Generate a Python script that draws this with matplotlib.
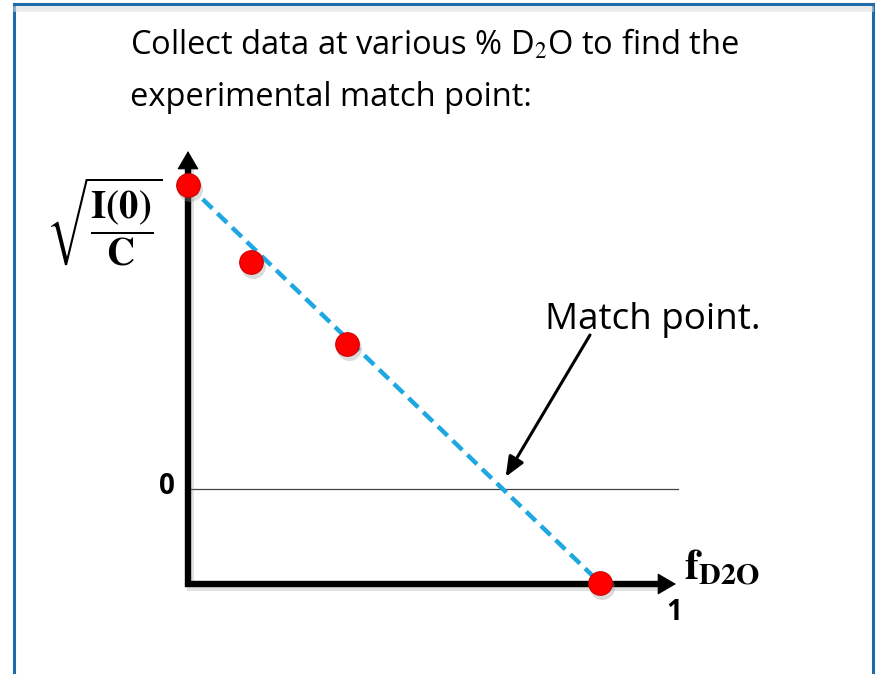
import matplotlib.pyplot as plt
from matplotlib.lines import Line2D

plt.rcParams['mathtext.fontset'] = 'stix'

# measured sqrt(I(0)/C) values at several D2O fractions
f_d2o = [0.0, 0.153, 0.386, 1.0]
sqrt_i0 = [1.0, 0.747, 0.477, -0.309]

# straight-line fit through the end points, crossing zero at the match point
fit_x = [f_d2o[0], f_d2o[-1]]
fit_y = [sqrt_i0[0], sqrt_i0[-1]]
slope = (fit_y[1] - fit_y[0]) / (fit_x[1] - fit_x[0])
match_x = fit_x[0] - fit_y[0] / slope

W, H = 877, 674
X0, SX = 188, 412   # pixel column of f = 0, pixels per unit f
Y0, SY = 489, 304   # pixel row of y = 0, pixels per unit y


def px(x, y):
    return (x - X0) / SX, (Y0 - y) / SY


fig = plt.figure(figsize=(W / 100, H / 100), dpi=100)
ax = fig.add_axes([0, 0, 1, 1])
ax.set_xlim(-X0 / SX, (W - X0) / SX)
ax.set_ylim(-(H - Y0) / SY, Y0 / SY)
ax.axis('off')

# frame around the slide panel
blue = '#1f6aa8'
for xs, ys in [([14 / W, 14 / W], [0, 1 - 4 / H]),
               ([14 / W, 873 / W], [1 - 4 / H, 1 - 4 / H]),
               ([873 / W, 873 / W], [1 - 4 / H, 0])]:
    fig.add_artist(Line2D(xs, ys, color=blue, lw=2.2))
fig.add_artist(Line2D([16 / W, 871 / W], [1 - 9 / H, 1 - 9 / H],
                      color='#dddddd', lw=4, alpha=0.6))

x_min = 0.0
y_min = px(0, 584)[1]
x_tip = px(676, 0)[0]
y_tip = px(0, 151)[1]
head_x = 16 / SX
head_y = 16 / SY

# zero line
ax.plot([x_min, px(678, 0)[0]], [0, 0], color='#444444', lw=0.9, zorder=1)

# axes: thick bodies with a faint shadow, then the arrow heads
sh = (2.5 / SX, -2.5 / SY)
ax.plot([x_min + sh[0], x_min + sh[0], x_tip - head_x + sh[0]],
        [y_tip - head_y + sh[1], y_min + sh[1], y_min + sh[1]],
        color='#888888', alpha=0.25, lw=5, solid_joinstyle='miter', zorder=1)
ax.plot([x_min, x_min, x_tip - head_x],
        [y_tip - head_y, y_min, y_min],
        color='black', lw=4.6, solid_joinstyle='miter', zorder=2)
head_kw = dict(arrowstyle='-|>,head_length=12,head_width=7', color='black',
               lw=0.8, shrinkA=0, shrinkB=0, mutation_scale=1)
ax.annotate('', xy=(x_min, y_tip), xytext=(x_min, y_tip - 2 * head_y),
            arrowprops=head_kw, zorder=2)
ax.annotate('', xy=(x_tip, y_min), xytext=(x_tip - 2 * head_x, y_min),
            arrowprops=head_kw, zorder=2)

# dashed fit line
ax.plot(fit_x, fit_y, color='#1ea7e0', lw=3.2, ls=(0, (3, 1.6)), zorder=3)

# data points with a soft shadow
ax.plot([v + 0.004 for v in f_d2o], [v - 0.012 for v in sqrt_i0], 'o',
        ms=18, color='#999999', alpha=0.35, mec='none', zorder=3)
ax.plot(f_d2o, sqrt_i0, 'o', ms=17, color='#ff0000', mec='#d00000', mew=0.8,
        zorder=4)

# match point arrow
ax.annotate('', xy=(match_x + 0.007, 0.04), xytext=px(590, 335),
            arrowprops=dict(arrowstyle='-|>,head_length=12,head_width=5',
                            color='black', lw=2.2, shrinkA=0, shrinkB=0,
                            mutation_scale=1))
ax.text(*px(545, 320), 'Match point.', fontsize=26.5,
        family='Open Sans', ha='left', va='center')

# axis labels
ax.text(*px(167, 487), '0', fontsize=20, fontweight='bold', family='Open Sans',
        ha='center', va='center')
ax.text(*px(674, 613), '1', fontsize=20, fontweight='bold',
        family='Open Sans', ha='center', va='center')
ax.text(*px(684, 568), r'$\mathbf{f_{D2O}}$', fontsize=31,
        ha='left', va='center')
ax.text(*px(104, 222),
        r'$\sqrt{\dfrac{\mathbf{I(0)}}{\mathbf{C}}}$', fontsize=28,
        ha='center', va='center')

# heading
ax.text(*px(130, 45),
        'Collect data at various % D$_2$O to find the', fontsize=23.5,
        family='Open Sans', ha='left', va='center')
ax.text(*px(130, 97), 'experimental match point:',
        fontsize=23.5, family='Open Sans', ha='left', va='center')

fig.savefig('out.png', dpi=100)
